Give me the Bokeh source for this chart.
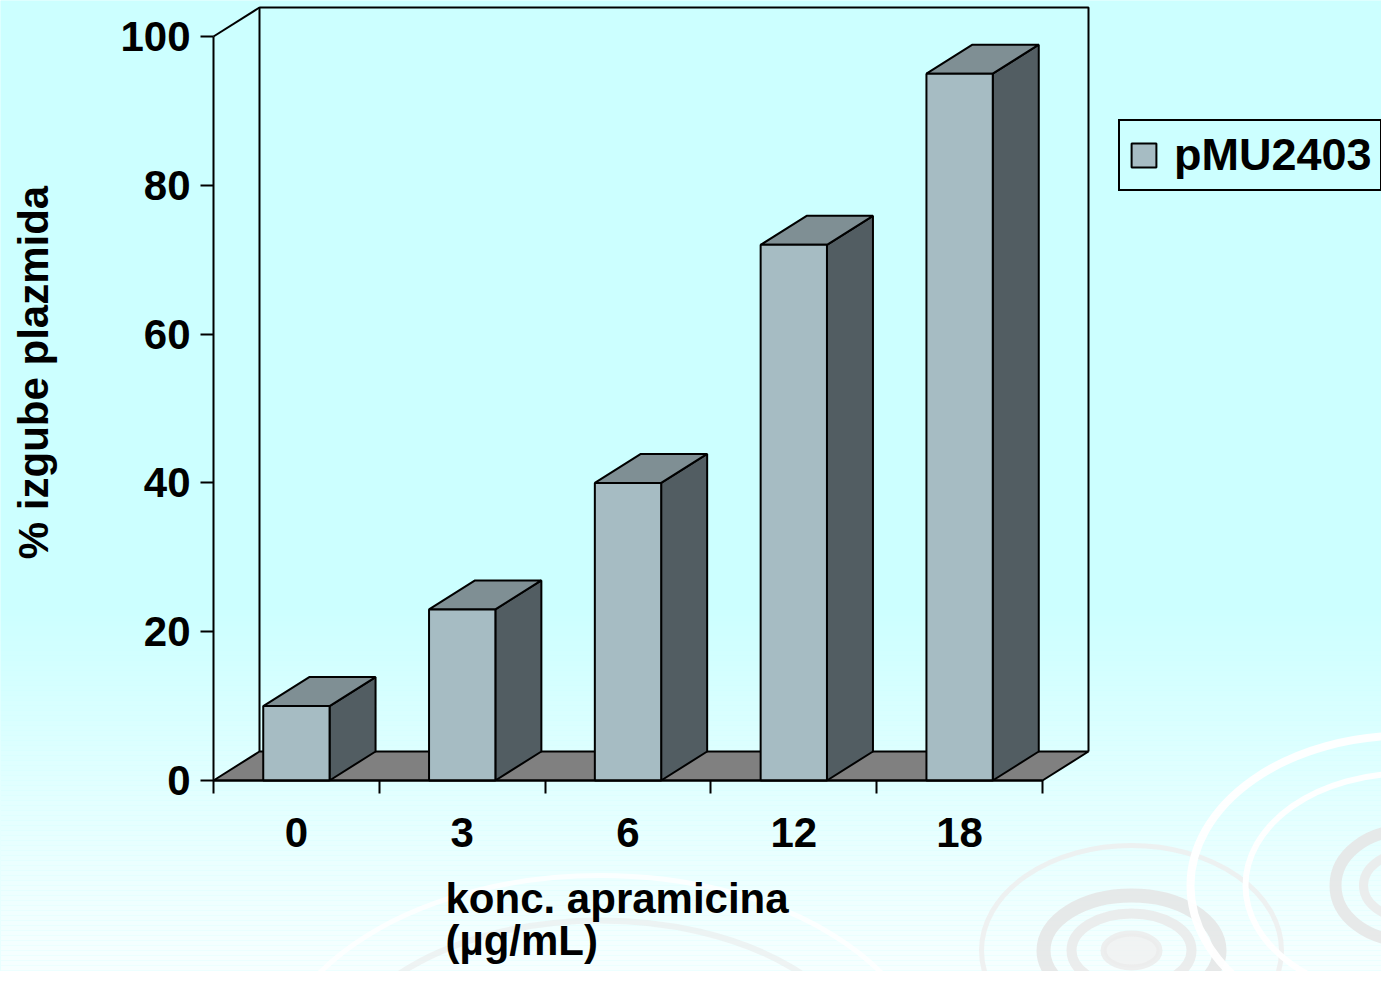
import numpy as np
from bokeh.plotting import figure
from bokeh.models import (Range1d, LinearAxis, FixedTicker, Legend, LegendItem,
                          ColumnDataSource, Label)
from bokeh.embed import file_html
from bokeh.resources import INLINE

# ---------------- data ----------------
categories = ["0", "3", "6", "12", "18"]
values = [10, 23, 40, 72, 95]
series_name = "pMU2403"
y_ticks = [0, 20, 40, 60, 80, 100]
x_title = "konc. apramicina\n(µg/mL)"
y_title = "% izgube plazmida"

# ---------------- geometry / styles ----------------
W, H = 1381, 971
X0_PX = 213             # canvas px of x = 0
Y0_PX = 780             # canvas px of y = 0
PX_PER_X = 165.8
PX_PER_Y = 7.44
DEPTH_PX = (46, 29)

FONT = "Liberation Sans"
FRONT = "#A6BCC3"
TOP = "#7F8F94"
SIDE = "#525D62"
FLOOR = "#808080"


def X(px):
    return (px - X0_PX) / PX_PER_X


def Y(px):
    return (Y0_PX - px) / PX_PER_Y


x_start, x_end = -X0_PX / PX_PER_X, (W - X0_PX) / PX_PER_X
y_start, y_end = -(H - Y0_PX) / PX_PER_Y, Y0_PX / PX_PER_Y
dx = DEPTH_PX[0] / PX_PER_X
dy = DEPTH_PX[1] / PX_PER_Y

p = figure(width=W, height=H, x_range=Range1d(x_start, x_end),
           y_range=Range1d(y_start, y_end), output_backend="svg",
           toolbar_location=None, min_border=0, x_axis_type=None, y_axis_type=None)
p.outline_line_color = None
p.background_fill_color = "#CCFFFF"
p.border_fill_color = "#CCFFFF"

# ---------------- background gradient (decoration) ----------------
rows = np.arange(0, 1000, 5)
t = np.clip((rows + 2.5 - 600) / 430.0, 0, 1)
cols = ["#%02X%02X%02X" % (int(204 + 51 * k), 255, 255) for k in t]
p.quad(left=x_start, right=x_end, top=[Y(r) for r in rows], bottom=[Y(r + 5) for r in rows],
       fill_color=cols, line_color=None)

# ---------------- decorative rings (decoration) ----------------
def ring(cx, cy, rx, ry, lw, color, alpha=1.0, fill=None):
    p.ellipse(x=X(cx), y=Y(cy), width=2 * rx / PX_PER_X, height=2 * ry / PX_PER_Y,
              line_color=color, line_width=lw, line_alpha=alpha,
              fill_color=fill, fill_alpha=alpha if fill else 0)

# system under the x title
ring(600, 1080, 330, 205, 5, "#FFFFFF", 0.8)
ring(600, 1080, 270, 160, 6, "#E8E8E8", 0.5)
# system at (1131, 950)
ring(1131, 950, 150, 105, 5, "#EDEDED", 0.8)
ring(1131, 950, 88, 55, 14, "#E3E3E3", 0.8)
ring(1131, 950, 60, 37, 10, "#E8E8E8", 0.8)
ring(1131, 950, 28, 17, 6, "#EBEBEB", 0.8, fill="#F0F0F0")
# system at right edge
ring(1405, 885, 215, 150, 8, "#FFFFFF", 0.95)
ring(1405, 885, 160, 112, 6, "#FFFFFF", 0.95)
ring(1405, 885, 70, 55, 12, "#E5E5E5", 0.85)
ring(1405, 885, 42, 32, 9, "#EAEAEA", 0.85)

n = len(categories)
ymax = y_ticks[-1]

# ---------------- floor and walls ----------------
p.patch(x=[0, n, n + dx, dx], y=[0, 0, dy, dy], fill_color=FLOOR,
        line_color="black", line_width=2)
p.multi_line(xs=[[dx, dx, n + dx, n + dx], [0, dx]],
             ys=[[dy, ymax + dy, ymax + dy, dy], [ymax, ymax + dy]],
             line_color="black", line_width=2)

# ---------------- 3D bars ----------------
half = 0.2
centers = np.arange(n) + 0.5
lefts = centers - half
rights = centers + half
vals = np.array(values, dtype=float)

side_src = ColumnDataSource(dict(
    xs=[[r, r + dx, r + dx, r] for r in rights],
    ys=[[0, dy, v + dy, v] for v in vals]))
top_src = ColumnDataSource(dict(
    xs=[[l, r, r + dx, l + dx] for l, r in zip(lefts, rights)],
    ys=[[v, v, v + dy, v + dy] for v in vals]))
front_src = ColumnDataSource(dict(left=lefts, right=rights, top=vals, bottom=np.zeros(n)))

p.patches("xs", "ys", source=side_src, fill_color=SIDE, line_color="black", line_width=2)
p.patches("xs", "ys", source=top_src, fill_color=TOP, line_color="black", line_width=2)
front = p.quad(left="left", right="right", top="top", bottom="bottom", source=front_src,
               fill_color=FRONT, line_color="black", line_width=2)

# ---------------- axes ----------------
yaxis = LinearAxis(fixed_location=0, bounds=(0, ymax), ticker=FixedTicker(ticks=y_ticks))
yaxis.axis_line_width = 2
yaxis.major_tick_line_width = 2
yaxis.major_tick_out = 13
yaxis.major_tick_in = 0
yaxis.minor_tick_line_color = None
yaxis.major_label_standoff = 10
yaxis.major_label_text_font = FONT
yaxis.major_label_text_font_style = "bold"
yaxis.major_label_text_font_size = "42px"
yaxis.major_label_text_color = "black"
p.add_layout(yaxis, "left")

xaxis = LinearAxis(fixed_location=0, bounds=(0, n),
                   ticker=FixedTicker(ticks=list(centers), minor_ticks=list(range(n + 1))))
xaxis.major_label_overrides = {float(c): lab for c, lab in zip(centers, categories)}
xaxis.axis_line_width = 2
xaxis.major_tick_out = 0
xaxis.major_tick_in = 0
xaxis.major_tick_line_color = None
xaxis.minor_tick_out = 13
xaxis.minor_tick_in = 0
xaxis.minor_tick_line_width = 2
xaxis.minor_tick_line_color = "black"
xaxis.major_label_standoff = 24
xaxis.major_label_text_font = FONT
xaxis.major_label_text_font_style = "bold"
xaxis.major_label_text_font_size = "42px"
xaxis.major_label_text_color = "black"
p.add_layout(xaxis, "below")

# ---------------- axis titles ----------------
p.add_layout(Label(x=X(445), y=Y(874), text=x_title, text_align="left", text_baseline="top",
                   text_font=FONT, text_font_style="bold", text_font_size="42px",
                   text_line_height=0.9, text_color="black"))
p.add_layout(Label(x=X(33), y=Y(372), text=y_title, angle=np.pi / 2, text_align="center",
                   text_baseline="middle", text_font=FONT, text_font_style="bold",
                   text_font_size="42px", text_color="black"))

# ---------------- legend ----------------
legend = Legend(items=[LegendItem(label=series_name, renderers=[front])],
                location=(1118, H - 191), margin=0, padding=8,
                glyph_width=31, glyph_height=30, label_standoff=15,
                label_text_font=FONT, label_text_font_style="bold",
                label_text_font_size="45px", label_text_color="black",
                border_line_color="black", border_line_width=2, border_line_alpha=1.0,
                background_fill_alpha=0)
p.add_layout(legend)

open("out.html", "w").write(file_html(p, INLINE))
